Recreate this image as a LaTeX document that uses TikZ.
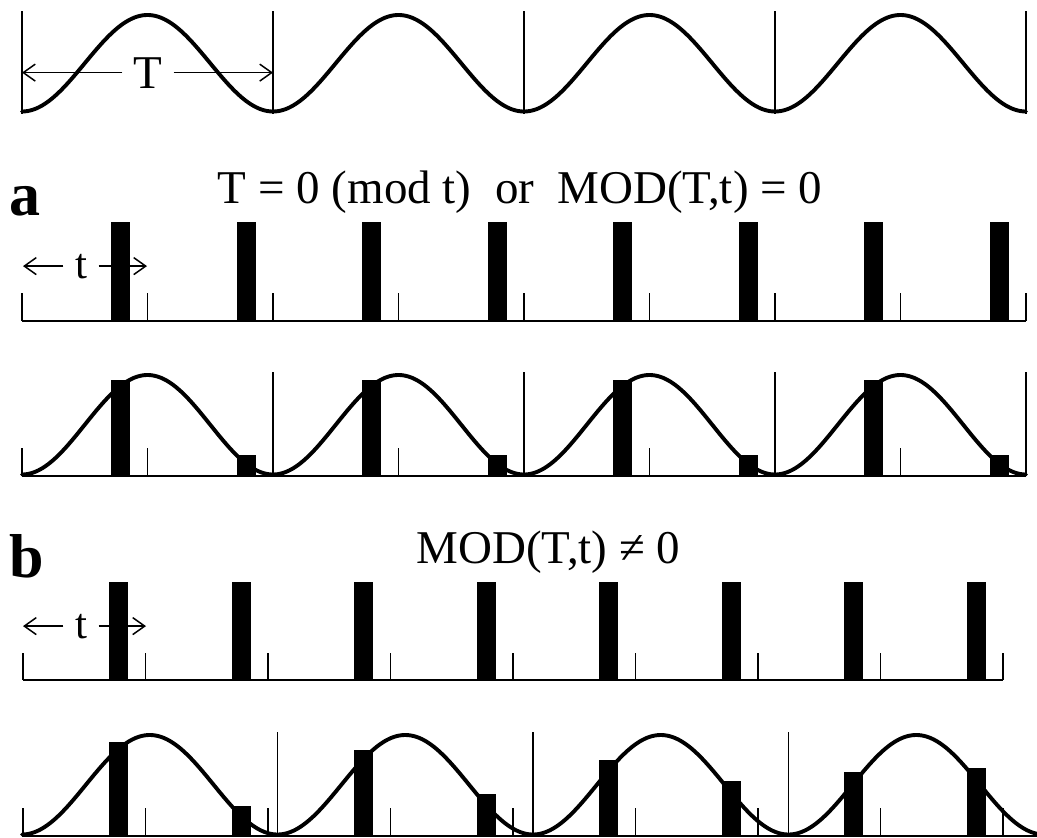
\documentclass[tikz,border=0pt]{standalone}
\usepackage{fontspec}
\setmainfont{Liberation Serif}
\usetikzlibrary{arrows.meta}
\begin{document}
\begin{tikzpicture}[x=1pt,y=-1pt,
  thinl/.style={line width=1.3pt},
  wave/.style={line width=3.9pt,line join=round,line cap=round},
  arrowline/.style={line width=1.3pt,-{Straight Barb[length=12pt,width=17pt,line width=1.5pt]}},
  lab/.style={font=\fontsize{47}{50}\selectfont,inner sep=0pt},
  tlab/.style={font=\fontsize{43}{46}\selectfont,inner ysep=0pt,inner xsep=11.5pt},
  panel/.style={font=\fontsize{62}{62}\selectfont\bfseries,inner sep=0pt}]
\useasboundingbox (0,0) rectangle (1037,838);

% ---------- top row: the wave with period T ----------
\foreach \x in {22,273,524,775,1026} \draw[thinl] (\x,11) -- (\x,114);
\draw[wave] plot[domain=22:1026,samples=500,smooth] (\x,{111.5-96.5*(1-cos((\x-22)*1.434263))/2});
\node[lab,anchor=base,inner xsep=11pt] (Tlab) at (148,88) {T};
\coordinate (TL) at (22,73);
\coordinate (TR) at (273,73);
\draw[arrowline] (Tlab.west) -- (Tlab.west -| TL);
\draw[arrowline] (Tlab.east) -- (Tlab.east -| TR);

% ---------- panel a ----------
\node[panel,anchor=base west] (alab) at (9,215) {a};
\node[lab,anchor=base] (atext) at (520,203) {T = 0 (mod t)\ \ or\ \ MOD(T,t) = 0};

% sampling pulses
\draw[thinl] (22,321) -- (1026,321);
\foreach \k in {0,...,8} \draw[thinl] ({22+125.5*\k},293) -- ({22+125.5*\k},321);
\foreach \k in {0,...,7} \fill ({111+125.5*\k},222) rectangle ({130+125.5*\k},321);
\node[tlab,anchor=base] (atl) at (81,278) {t};
\coordinate (aL) at (23,265);
\coordinate (aR) at (147,265);
\draw[arrowline] (atl.west) -- (atl.west -| aL);
\draw[arrowline] (atl.east) -- (atl.east -| aR);

% sampled wave
\draw[thinl] (22,476) -- (1026,476);
\foreach \x in {22,147.5,398.5,649.5,900.5} \draw[thinl] (\x,448) -- (\x,476);
\foreach \x in {273,524,775,1026} \draw[thinl] (\x,372) -- (\x,476);
\draw[wave] plot[domain=22:1026,samples=500,smooth] (\x,{474.5-99.5*(1-cos((\x-22)*1.434263))/2});
\foreach \k in {0,...,7}{
  \pgfmathsetmacro\xa{111+125.5*\k}
  \pgfmathsetmacro\xb{\xa+19}
  \pgfmathsetmacro\fa{(1-cos((\xa-22)*1.434263))/2}
  \pgfmathsetmacro\fb{(1-cos((\xb-22)*1.434263))/2}
  \pgfmathsetmacro\ytop{474.5-99.5*max(\fa,\fb)}
  \fill (\xa,\ytop) rectangle (\xb,476);
}

% ---------- panel b ----------
\node[panel,anchor=base west] (blab) at (9,577) {b};
\node[lab,anchor=base] (btext) at (548.5,563) {MOD(T,t) ≠ 0};

% sampling pulses
\draw[thinl] (23,680) -- (1003,680);
\foreach \k in {0,...,8} \draw[thinl] ({23+122.5*\k},653) -- ({23+122.5*\k},680);
\foreach \k in {0,...,7} \fill ({109+122.5*\k},582) rectangle ({128+122.5*\k},680);
\node[tlab,anchor=base] (btl) at (81,638) {t};
\coordinate (bL) at (23,624);
\coordinate (bR) at (146,624);
\draw[arrowline] (btl.west) -- (btl.west -| bL);
\draw[arrowline] (btl.east) -- (btl.east -| bR);

% sampled wave
\draw[thinl] (22,836) -- (1037,836);
\foreach \k in {0,...,8} \draw[thinl] ({23+122.5*\k},808) -- ({23+122.5*\k},836);
\foreach \x in {277.5,533,788.5} \draw[thinl] (\x,732) -- (\x,836);
\draw[wave] plot[domain=22:1040,samples=500,smooth] (\x,{834.5-99.5*(1-cos((\x-22)*1.409002))/2});
\foreach \k in {0,...,7}{
  \pgfmathsetmacro\xa{109+122.5*\k}
  \pgfmathsetmacro\xb{\xa+19}
  \pgfmathsetmacro\fa{(1-cos((\xa-22)*1.409002))/2}
  \pgfmathsetmacro\fb{(1-cos((\xb-22)*1.409002))/2}
  \pgfmathsetmacro\ytop{834.5-99.5*max(\fa,\fb)}
  \fill (\xa,\ytop) rectangle (\xb,836);
}
\end{tikzpicture}
\end{document}
